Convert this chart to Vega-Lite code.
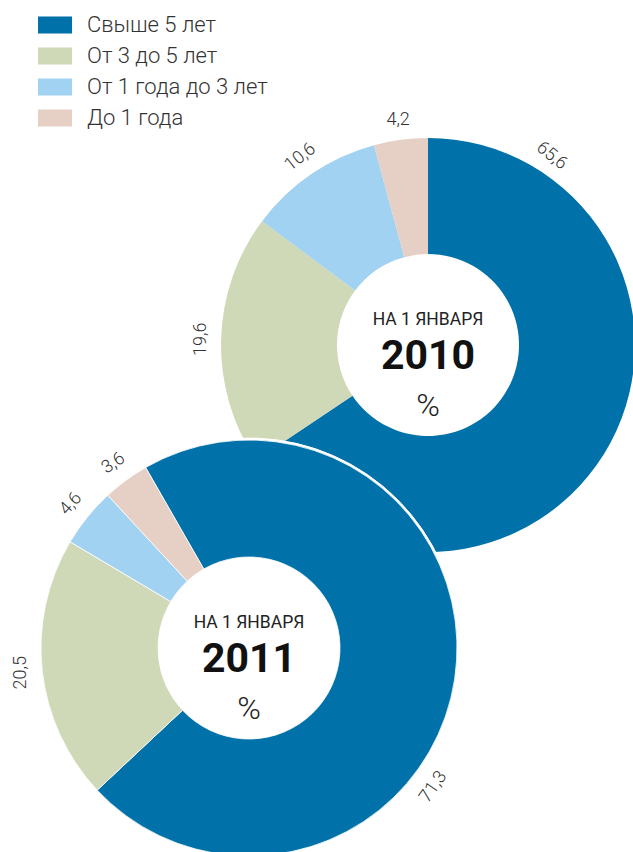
{
  "$schema": "https://vega.github.io/schema/vega-lite/v6.json",
  "width": 633,
  "height": 852,
  "padding": 0,
  "autosize": {"type": "none"},
  "config": {
    "view": {"stroke": null},
    "locale": {"number": {"decimal": ",", "thousands": " ", "grouping": [3], "currency": ["", ""]}}
  },
  "datasets": {
    "shares": [
      {"year": 2010, "category": "Свыше 5 лет", "value": 65.6},
      {"year": 2010, "category": "От 3 до 5 лет", "value": 19.6},
      {"year": 2010, "category": "От 1 года до 3 лет", "value": 10.6},
      {"year": 2010, "category": "До 1 года", "value": 4.2},
      {"year": 2011, "category": "Свыше 5 лет", "value": 71.3},
      {"year": 2011, "category": "От 3 до 5 лет", "value": 20.5},
      {"year": 2011, "category": "От 1 года до 3 лет", "value": 4.6},
      {"year": 2011, "category": "До 1 года", "value": 3.6}
    ],
    "years": [{"year": 2010}, {"year": 2011}]
  },
  "encoding": {
    "x": {"field": "year", "type": "quantitative", "axis": null, "scale": {"domain": [2010, 2011], "range": [428, 249], "nice": false, "zero": false}},
    "y": {"field": "year", "type": "quantitative", "axis": null, "scale": {"domain": [2010, 2011], "range": [345, 648], "nice": false, "zero": false}}
  },
  "layer": [
    {
      "data": {"name": "shares"},
      "transform": [{"filter": "datum.year == 2010"}],
      "layer": [
        {
          "mark": {"type": "arc", "outerRadius": 207, "innerRadius": 91},
          "encoding": {
            "theta": {"field": "value", "type": "quantitative", "stack": true, "scale": {"domain": [0, 100], "range": [0, 6.2832]}},
            "order": {"field": "category", "sort": "descending"},
            "color": {
              "field": "category", "type": "nominal",
              "scale": {"domain": ["Свыше 5 лет", "От 3 до 5 лет", "От 1 года до 3 лет", "До 1 года"], "range": ["#0071a9", "#cfd8b7", "#a2d2f2", "#e6cfc5"]},
              "legend": {
                "title": null, "orient": "none", "legendX": 38, "legendY": 8,
                "symbolType": "M-1,-0.5H1V0.5H-1Z", "symbolSize": 1156, "symbolStrokeWidth": 0, "symbolOpacity": 1,
                "labelFont": "Roboto", "labelFontWeight": 300, "labelFontSize": 22, "labelColor": "#333333",
                "labelOffset": 15, "labelLimit": 400, "rowPadding": 3
              }
            }
          }
        },
        {
          "mark": {"type": "text", "radius": 227, "font": "Roboto", "fontWeight": 300, "fontSize": 18, "color": "#333333", "baseline": "middle", "align": "center"},
          "encoding": {
            "theta": {"field": "value", "type": "quantitative", "stack": true, "scale": {"domain": [0, 100], "range": [0, 6.2832]}},
            "order": {"field": "category", "sort": "descending"},
            "text": {"condition": {"test": "datum.category === 'Свыше 5 лет'", "value": ""}, "field": "value", "type": "quantitative", "format": ".1f"},
            "angle": {"condition": [
              {"test": "datum.category === 'От 3 до 5 лет'", "value": -90},
              {"test": "datum.category === 'От 1 года до 3 лет'", "value": -38}
            ], "value": 0}
          }
        },
        {
          "transform": [{"filter": "datum.category === 'Свыше 5 лет'"}],
          "mark": {"type": "text", "radius": 226, "thetaOffset": -1.482, "angle": 38, "font": "Roboto", "fontWeight": 300, "fontSize": 18, "color": "#333333", "baseline": "middle", "align": "center"},
          "encoding": {
            "theta": {"field": "value", "type": "quantitative", "stack": true, "scale": {"domain": [0, 100], "range": [0, 6.2832]}},
            "text": {"field": "value", "type": "quantitative", "format": ".1f"}
          }
        }
      ]
    },
    {
      "data": {"name": "shares"},
      "transform": [{"filter": "datum.year == 2011"}],
      "layer": [
        {
          "mark": {"type": "arc", "outerRadius": 210, "innerRadius": 91, "color": "white", "stroke": "white", "strokeWidth": 1},
          "encoding": {
            "theta": {"field": "value", "type": "quantitative", "stack": true, "scale": {"domain": [0, 100], "range": [-0.5201, 5.7631]}},
            "order": {"field": "category", "sort": "descending"},
            "detail": {"field": "category", "type": "nominal"}
          }
        },
        {
          "mark": {"type": "arc", "outerRadius": 208, "innerRadius": 91, "stroke": "white", "strokeWidth": 0.8},
          "encoding": {
            "theta": {"field": "value", "type": "quantitative", "stack": true, "scale": {"domain": [0, 100], "range": [-0.5201, 5.7631]}},
            "order": {"field": "category", "sort": "descending"},
            "color": {"field": "category", "type": "nominal"}
          }
        },
        {
          "mark": {"type": "text", "radius": 229, "font": "Roboto", "fontWeight": 300, "fontSize": 18, "color": "#333333", "baseline": "middle", "align": "center"},
          "encoding": {
            "theta": {"field": "value", "type": "quantitative", "stack": true, "scale": {"domain": [0, 100], "range": [-0.5201, 5.7631]}},
            "order": {"field": "category", "sort": "descending"},
            "text": {"condition": {"test": "datum.category === 'Свыше 5 лет'", "value": ""}, "field": "value", "type": "quantitative", "format": ".1f"},
            "angle": {"condition": [
              {"test": "datum.category === 'От 3 до 5 лет'", "value": -90},
              {"test": "datum.category === 'От 1 года до 3 лет'", "value": -48},
              {"test": "datum.category === 'До 1 года'", "value": -34}
            ], "value": 0}
          }
        },
        {
          "transform": [{"filter": "datum.category === 'Свыше 5 лет'"}],
          "mark": {"type": "text", "radius": 231, "thetaOffset": 0.496, "angle": -55, "font": "Roboto", "fontWeight": 300, "fontSize": 18, "color": "#333333", "baseline": "middle", "align": "center"},
          "encoding": {
            "theta": {"field": "value", "type": "quantitative", "stack": true, "scale": {"domain": [0, 100], "range": [-0.5201, 5.7631]}},
            "text": {"field": "value", "type": "quantitative", "format": ".1f"}
          }
        }
      ]
    },
    {
      "data": {"name": "years"},
      "layer": [
        {
          "mark": {"type": "text", "dy": -25, "font": "Roboto", "fontSize": 17.5, "fontWeight": 400, "color": "#222222", "baseline": "middle", "align": "center"},
          "encoding": {"text": {"value": "НА 1 ЯНВАРЯ"}}
        },
        {
          "mark": {"type": "text", "dy": 12, "font": "Roboto", "fontSize": 41, "fontWeight": "bold", "color": "#111111", "baseline": "middle", "align": "center"},
          "encoding": {"text": {"field": "year", "type": "nominal"}}
        },
        {
          "mark": {"type": "text", "dy": 61, "font": "Roboto", "fontSize": 32, "fontWeight": 300, "color": "#222222", "baseline": "middle", "align": "center"},
          "encoding": {"text": {"value": "%"}}
        }
      ]
    }
  ],
  "resolve": {"scale": {"theta": "independent"}}
}
